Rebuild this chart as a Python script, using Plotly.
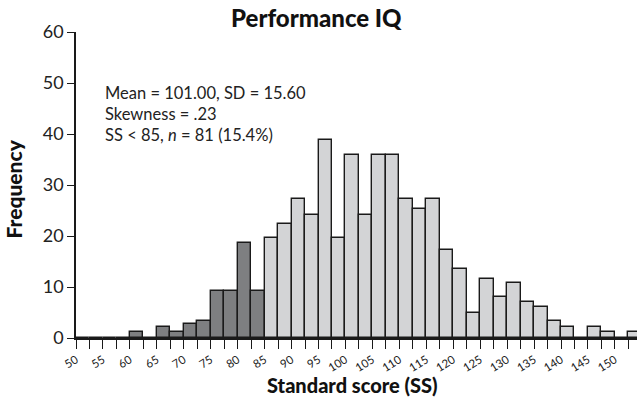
import numpy as np
import plotly.graph_objects as go

# Histogram of Performance IQ standard scores, 2.5-point bins starting at 50
bin_width = 2.5
bin_start = 50.0
frequency = [
    0, 0, 0, 0, 1.2, 0, 2.2, 1.1, 2.8, 3.4,
    9.2, 9.2, 18.7, 9.3, 19.6, 22.4, 27.3, 24.2, 38.9, 19.6,
    35.8, 24.2, 35.8, 35.8, 27.3, 25.2, 27.3, 17.3, 13.6, 4.9,
    11.6, 8.0, 10.8, 7.1, 6.0, 3.3, 2.2, 0, 2.2, 1.1,
    0, 1.1,
]
cutoff = 85  # scores below this are shaded darker
tick_labels = [str(v) for v in range(50, 155, 5)]

stats_lines = [
    "Mean = 101.00, SD = 15.60",
    "Skewness = .23",
    "SS < 85, <i>n</i> = 81 (15.4%)",
]

lefts = bin_start + bin_width * np.arange(len(frequency))
centers = lefts + bin_width / 2
colors = ["#7e7f81" if l < cutoff else "#d3d4d6" for l in lefts]

FONT = "Lato"
INK = "#1a1a1a"

fig = go.Figure(
    go.Bar(
        x=centers,
        y=frequency,
        width=bin_width,
        marker=dict(color=colors, line=dict(color=INK, width=1.4)),
        hoverinfo="x+y",
    )
)

# ticks at every bin edge, labels every 5 points
edge_vals = list(bin_start + bin_width * np.arange(0, 43))
edge_text = []
for v in edge_vals:
    s = str(int(v)) if float(v).is_integer() and int(v) % 5 == 0 else ""
    edge_text.append(s if s in tick_labels else "")

fig.update_layout(
    width=637,
    height=398,
    margin=dict(l=76, r=0, t=32, b=60),
    paper_bgcolor="white",
    plot_bgcolor="white",
    showlegend=False,
    bargap=0,
    font=dict(family=FONT, color=INK),
    xaxis=dict(
        range=[50, 154.1],
        tickmode="array",
        tickvals=edge_vals,
        ticktext=edge_text,
        tickangle=-32,
        tickfont=dict(size=11.5, color="#222"),
        ticks="outside",
        ticklen=9,
        tickwidth=1.3,
        tickcolor=INK,
        showline=True,
        linecolor=INK,
        linewidth=1.6,
        showgrid=False,
        zeroline=False,
    ),
    yaxis=dict(
        range=[0, 60],
        tickvals=[0, 10, 20, 30, 40, 50, 60],
        tickfont=dict(size=18, color="#222"),
        ticks="outside",
        ticklen=7,
        tickwidth=1.3,
        tickcolor=INK,
        showline=True,
        linecolor=INK,
        linewidth=1.6,
        showgrid=False,
        zeroline=False,
    ),
)

annotations = [
    dict(text="Performance IQ", xref="paper", yref="paper",
         x=(316 - 76) / 561, y=1 + 14 / 306, xanchor="center", yanchor="middle",
         showarrow=False, font=dict(size=24, family=FONT, weight=900, color="#111")),
    dict(text="Standard score (SS)", xref="paper", yref="paper",
         x=(352 - 76) / 561, y=-(385 - 338) / 306, xanchor="center", yanchor="middle",
         showarrow=False, font=dict(size=20, family=FONT, weight=900, color="#111")),
    dict(text="Frequency", xref="paper", yref="paper",
         x=(12.5 - 76) / 561, y=(338 - 189) / 306, xanchor="center", yanchor="middle",
         textangle=-90, showarrow=False,
         font=dict(size=21, family=FONT, weight=900, color="#111")),
]
for i, line in enumerate(stats_lines):
    yc = 93 + i * 21
    annotations.append(
        dict(text=line, xref="paper", yref="paper",
             x=(103 - 76) / 561, y=(338 - yc) / 306, xanchor="left", yanchor="middle",
             showarrow=False, font=dict(size=16.5, family=FONT, color="#222"))
    )
fig.update_layout(annotations=annotations)

fig.write_html("out.html")
